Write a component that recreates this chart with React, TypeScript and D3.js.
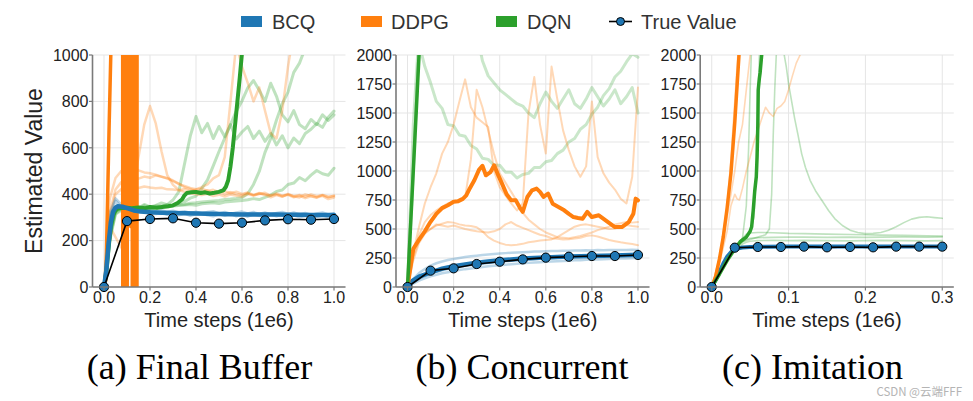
import React from 'react';
import * as d3 from 'd3';

const BLUE = '#1f77b4';
const ORANGE = '#ff7f0e';
const GREEN = '#2ca02c';

// shared time grid (1e6 steps) for the noisy seed runs of (a) and (b)
const tGrid = [0, 0.025, 0.05, 0.075, 0.1, 0.125, 0.15, 0.175, 0.2, 0.225, 0.25, 0.275, 0.3, 0.325, 0.35, 0.375, 0.4, 0.425, 0.45, 0.475, 0.5, 0.525, 0.55, 0.575, 0.6, 0.625, 0.65, 0.675, 0.7, 0.725, 0.75, 0.775, 0.8, 0.825, 0.85, 0.875, 0.9, 0.925, 0.95, 0.975, 1.0];

// ---------- (a) Final Buffer ----------
const trueXA = [0, 0.1, 0.2, 0.3, 0.4, 0.5, 0.6, 0.7, 0.8, 0.9, 1.0];
const trueA = [0, 284, 293, 296, 277, 273, 277, 287, 292, 290, 293];

const bcqXA = [0, 0.01, 0.02, 0.03, 0.04, 0.05, 0.06, 0.08, 0.1, 0.13, 0.16, 0.2, 0.25, 0.3, 0.35, 0.4, 0.45, 0.5, 0.55, 0.6, 0.65, 0.7, 0.75, 0.8, 0.85, 0.9, 0.95, 1.0];
const bcqA = [0, 70, 190, 280, 325, 342, 348, 346, 340, 330, 325, 322, 320, 319, 318, 317, 316, 315, 314, 313, 313, 312, 312, 311, 311, 310, 310, 310];

const dqnXA = [0, 0.01, 0.02, 0.03, 0.04, 0.05, 0.06, 0.08, 0.1, 0.12, 0.15, 0.18, 0.2, 0.23, 0.26, 0.28, 0.3, 0.32, 0.34, 0.35, 0.36, 0.38, 0.4, 0.42, 0.44, 0.46, 0.48, 0.5, 0.52, 0.53, 0.54, 0.55, 0.56, 0.57, 0.58, 0.59, 0.6, 0.61];
const dqnA = [0, 60, 170, 260, 310, 330, 338, 340, 342, 340, 343, 340, 345, 342, 346, 348, 352, 362, 378, 395, 405, 408, 410, 405, 408, 403, 406, 410, 418, 432, 460, 520, 600, 700, 800, 900, 1010, 1100];

// DDPG diverges: flips far above / below the axis range
const ddpgXA = [0, 0.008, 0.015, 0.022, 0.03, 0.035, 0.08, 0.083, 0.086, 0.089, 0.092, 0.095, 0.098, 0.1, 0.102, 0.107, 0.112, 0.117, 0.122, 0.124, 0.127, 0.13, 0.133, 0.136, 0.139, 0.142, 0.145, 1.0];
const ddpgA = [0, 30, 350, 680, 1020, 1400, 5000, -5000, 5000, -5000, 5000, -5000, 5000, -5000, 5000, 280, 5000, 260, 5000, -5000, 5000, -5000, 5000, -5000, 5000, -5000, 5000, 5000];

const dqnSeedsA = [
  [0, 240, 330, 348, 335, 352, 340, 356, 345, 352, 362, 355, 375, 410, 530, 650, 735, 665, 705, 640, 692, 648, 700, 638, 668, 692, 640, 672, 628, 662, 612, 652, 600, 642, 618, 662, 680, 705, 688, 732, 758],
  [0, 225, 325, 342, 333, 346, 337, 351, 341, 350, 347, 356, 349, 362, 368, 383, 392, 425, 462, 522, 584, 642, 700, 758, 802, 858, 890, 848, 800, 878, 822, 742, 712, 760, 700, 682, 722, 700, 742, 718, 742],
  [0, 210, 318, 336, 329, 339, 333, 342, 337, 343, 346, 349, 351, 354, 356, 361, 363, 366, 369, 371, 373, 377, 379, 382, 386, 402, 442, 498, 580, 640, 720, 790, 840, 925, 965, 1030, 1100, 1100, 1100, 1100, 1100],
  [0, 200, 314, 331, 327, 336, 331, 339, 334, 341, 343, 346, 349, 351, 353, 356, 352, 359, 361, 363, 360, 366, 369, 371, 373, 376, 381, 377, 386, 396, 412, 418, 442, 448, 472, 458, 482, 502, 488, 482, 512],
];
const ddpgSeedsA = [
  [0, 260, 215, 170, 300, 420, 560, 700, 780, 705, 585, 482, 440, 418, 410, 404, 400, 396, 402, 392, 398, 390, 399, 393, 389, 401, 394, 403, 397, 387, 396, 389, 401, 391, 386, 399, 392, 387, 397, 389, 392],
  [0, 380, 470, 500, 506, 497, 503, 494, 490, 484, 476, 467, 456, 444, 436, 427, 421, 424, 414, 419, 409, 413, 404, 411, 401, 407, 397, 405, 399, 395, 403, 394, 399, 391, 397, 389, 399, 391, 396, 387, 394],
  [0, 320, 420, 452, 461, 471, 467, 476, 471, 481, 475, 470, 459, 446, 430, 423, 414, 411, 417, 404, 413, 399, 409, 401, 397, 405, 395, 401, 406, 394, 399, 391, 397, 387, 393, 383, 391, 385, 393, 379, 386],
  [0, 300, 400, 421, 426, 430, 427, 433, 429, 426, 428, 421, 420, 417, 423, 414, 421, 430, 442, 468, 482, 560, 800, 1050, 950, 880, 800, 860, 760, 662, 640, 760, 950, 1100, 1100, 1100, 1100, 1100, 1100, 1100, 1100],
];
const bcqSeedsA = [
  [0, 300, 372, 344, 336, 326, 321, 323, 317, 315, 321, 311, 318, 309, 316, 307, 313, 317, 309, 305, 313, 307, 315, 305, 311, 303, 313, 307, 302, 311, 305, 313, 303, 309, 300, 307, 311, 301, 309, 300, 304],
  [0, 320, 382, 356, 343, 337, 336, 329, 333, 327, 331, 324, 329, 321, 327, 319, 325, 317, 323, 327, 317, 323, 315, 321, 325, 317, 323, 315, 321, 313, 319, 323, 315, 321, 313, 319, 311, 317, 321, 313, 318],
];

// ---------- (b) Concurrent ----------
const trueXB = [0, 0.1, 0.2, 0.3, 0.4, 0.5, 0.6, 0.7, 0.8, 0.9, 1.0];
const trueB = [0, 141, 161, 198, 218, 238, 253, 261, 267, 267, 276];

const bcqXB = [0, 0.02, 0.05, 0.1, 0.15, 0.2, 0.3, 0.4, 0.5, 0.6, 0.7, 0.8, 0.9, 1.0];
const bcqB = [0, 50, 90, 125, 158, 180, 210, 230, 245, 255, 262, 268, 272, 278];

const dqnXB = [0, 0.05, 0.06];
const dqnB = [0, 2000, 2400];

const ddpgXB = [0, 0.025, 0.053, 0.075, 0.096, 0.125, 0.15, 0.175, 0.2, 0.22, 0.24, 0.255, 0.27, 0.29, 0.31, 0.325, 0.34, 0.36, 0.376, 0.39, 0.41, 0.43, 0.45, 0.47, 0.49, 0.5, 0.52, 0.54, 0.56, 0.575, 0.59, 0.61, 0.63, 0.655, 0.68, 0.7, 0.72, 0.74, 0.76, 0.78, 0.8, 0.83, 0.87, 0.9, 0.93, 0.96, 0.98, 0.99, 1.0];
const ddpgB = [0, 330, 417, 480, 550, 630, 680, 705, 735, 740, 760, 790, 850, 920, 1010, 1045, 963, 990, 1049, 980, 891, 800, 747, 747, 675, 647, 776, 833, 848, 820, 776, 805, 718, 690, 661, 630, 603, 595, 589, 647, 603, 618, 560, 517, 517, 560, 632, 762, 747];

const bcqSeedsB = [
  [0, 70, 120, 155, 185, 205, 220, 232, 242, 250, 258, 265, 270, 276, 280, 285, 288, 292, 295, 298, 300, 302, 305, 306, 308, 310, 311, 313, 312, 315, 314, 316, 315, 318, 316, 319, 318, 320, 318, 322, 320],
  [0, 40, 70, 95, 115, 130, 145, 155, 165, 172, 180, 188, 195, 200, 206, 212, 218, 222, 226, 230, 234, 238, 240, 244, 246, 250, 252, 255, 256, 260, 258, 262, 264, 266, 265, 268, 270, 272, 270, 274, 276],
  [0, 30, 55, 75, 92, 105, 118, 128, 138, 146, 154, 160, 166, 172, 178, 183, 188, 192, 196, 200, 204, 208, 211, 214, 217, 220, 222, 225, 227, 230, 231, 234, 236, 238, 239, 241, 243, 245, 246, 248, 250],
];
const ddpgSeedsB = [
  [0, 300, 520, 720, 860, 980, 1150, 1250, 1400, 1600, 1790, 1550, 1460, 1420, 1380, 1000, 860, 790, 720, 660, 720, 1500, 1810, 1400, 1150, 1900, 1620, 1350, 1180, 1040, 950, 1040, 1600, 1120, 980, 900, 840, 760, 720, 950, 1720],
  [0, 280, 450, 560, 620, 660, 690, 720, 730, 750, 770, 1100, 1700, 1550, 1350, 1150, 980, 900, 820, 740, 640, 580, 540, 500, 470, 450, 430, 425, 420, 430, 440, 455, 470, 490, 505, 520, 540, 550, 560, 555, 560],
  [0, 230, 380, 460, 500, 540, 530, 520, 530, 515, 500, 490, 480, 475, 470, 480, 500, 540, 560, 530, 510, 490, 470, 450, 440, 420, 415, 410, 412, 418, 425, 440, 445, 435, 420, 405, 395, 385, 378, 370, 360],
  [0, 260, 400, 470, 500, 530, 545, 560, 555, 540, 530, 525, 515, 480, 430, 400, 380, 365, 360, 365, 372, 385, 392, 400, 405, 410, 430, 460, 490, 520, 535, 540, 530, 520, 510, 500, 505, 520, 535, 525, 520],
];
const dqnSeedsB = [
  [0, 1000, 2100, 1900, 1760, 1600, 1540, 1400, 1390, 1310, 1300, 1220, 1190, 1110, 1100, 1050, 1050, 990, 990, 940, 970, 980, 1030, 1030, 1080, 1090, 1150, 1180, 1250, 1280, 1360, 1400, 1490, 1550, 1650, 1710, 1810, 1860, 1940, 2010, 1980],
  [0, 1400, 2200, 2200, 2200, 2200, 2200, 2200, 2200, 2200, 2200, 2200, 2200, 1950, 1820, 1760, 1700, 1660, 1620, 1580, 1560, 1500, 1460, 1580, 1680, 1600, 1540, 1620, 1700, 1580, 1540, 1620, 1720, 1640, 1560, 1620, 1700, 1580, 1640, 1720, 1500],
];

// ---------- (c) Imitation ----------
const trueXC = [0, 0.03, 0.06, 0.09, 0.12, 0.15, 0.18, 0.21, 0.24, 0.27, 0.3];
const trueC = [0, 339, 345, 345, 348, 342, 345, 342, 348, 348, 348];

const bcqXC = [0, 0.005, 0.01, 0.015, 0.02, 0.025, 0.03, 0.035, 0.04, 0.05, 0.07, 0.1, 0.15, 0.2, 0.25, 0.3];
const bcqC = [0, 60, 130, 200, 260, 300, 320, 333, 340, 345, 348, 350, 350, 350, 350, 350];

const ddpgXC = [0, 0.005, 0.01, 0.015, 0.02, 0.025, 0.03, 0.0355, 0.04];
const ddpgC = [0, 90, 240, 430, 680, 980, 1420, 2000, 2500];

const dqnXC = [0, 0.01, 0.02, 0.03, 0.037, 0.045, 0.05, 0.052, 0.054, 0.056, 0.058, 0.059, 0.06, 0.0605, 0.062, 0.063, 0.065, 0.066];
const dqnC = [0, 110, 230, 330, 390, 430, 480, 520, 660, 830, 950, 1120, 1400, 1700, 1800, 1850, 2000, 2100];

const dqnSeedXC1 = [0, 0.02, 0.03, 0.04, 0.045, 0.048, 0.05, 0.052];
const dqnSeedC1 = [0, 250, 330, 420, 700, 1200, 1700, 2100];
const dqnSeedXC2 = [0, 0.02, 0.03, 0.04, 0.06, 0.07, 0.075, 0.078, 0.08, 0.082, 0.084, 0.09, 0.093, 0.097, 0.1, 0.104, 0.108, 0.112, 0.117, 0.122, 0.128, 0.135, 0.143, 0.152, 0.16, 0.17, 0.18, 0.19, 0.2, 0.21, 0.22, 0.23, 0.24, 0.25, 0.26, 0.27, 0.28, 0.29, 0.3];
const dqnSeedC2 = [0, 250, 330, 390, 430, 450, 500, 800, 1300, 1700, 2000, 2150, 2050, 1900, 1750, 1600, 1450, 1320, 1150, 1030, 920, 830, 750, 660, 590, 530, 490, 470, 460, 462, 470, 490, 520, 555, 585, 600, 605, 598, 592];
const dqnSeedXC3 = [0, 0.03, 0.04, 0.05, 0.055, 0.058, 0.06, 0.062, 0.064];
const dqnSeedC3 = [0, 330, 400, 470, 600, 1000, 1500, 2000, 2200];
const flatXC = [0, 0.02, 0.03, 0.04, 0.045, 0.05, 0.06, 0.08, 0.1, 0.12, 0.15, 0.18, 0.2, 0.22, 0.25, 0.28, 0.3];
const dqnFlatC = [
  [0, 230, 330, 420, 455, 465, 470, 468, 462, 460, 456, 452, 450, 447, 445, 442, 440],
  [0, 220, 320, 390, 410, 420, 425, 428, 430, 430, 428, 430, 428, 430, 432, 430, 432],
  [0, 210, 310, 370, 385, 395, 400, 402, 400, 402, 400, 398, 400, 402, 400, 398, 400],
];

const ddpgSeedXC1 = [0, 0.01, 0.02, 0.025, 0.03, 0.033, 0.036, 0.04, 0.045, 0.05, 0.055, 0.06, 0.066, 0.07, 0.075, 0.08, 0.085, 0.09, 0.095, 0.1, 0.105, 0.11, 0.115, 0.12];
const ddpgSeedC1 = [0, 200, 480, 700, 800, 760, 750, 850, 1000, 1120, 1250, 1350, 1470, 1550, 1500, 1470, 1540, 1560, 1600, 1700, 1820, 1930, 2000, 2100];
const ddpgSeedXC2 = [0, 0.01, 0.02, 0.025, 0.03, 0.034, 0.036];
const ddpgSeedC2 = [0, 250, 700, 1100, 1600, 2000, 2200];
const ddpgSeedXC3 = [0, 0.01, 0.02, 0.03, 0.035, 0.04, 0.045, 0.05, 0.052];
const ddpgSeedC3 = [0, 220, 600, 1000, 1250, 1400, 1700, 2000, 2100];

// ---------- axes ----------
const yTicksA = [0, 200, 400, 600, 800, 1000];
const yTicksBC = [0, 250, 500, 750, 1000, 1250, 1500, 1750, 2000];
const xTicksAB = [0, 0.2, 0.4, 0.6, 0.8, 1.0];
const xTicksC = [0, 0.1, 0.2, 0.3];

const legendItems = [
  { label: 'BCQ', color: BLUE, px: 241, tx: 272 },
  { label: 'DDPG', color: ORANGE, px: 361, tx: 391 },
  { label: 'DQN', color: GREEN, px: 496, tx: 527 },
];

type Run = { xs: number[]; ys: number[]; color: string; width: number; opacity: number };
const faint = (xs: number[], ys: number[], color: string, width = 2.5, opacity = 0.3): Run => ({ xs, ys, color, width, opacity });
const bold = (xs: number[], ys: number[], color: string, width = 4): Run => ({ xs, ys, color, width, opacity: 1 });

const SANS = '"Liberation Sans", Arial, Helvetica, sans-serif';
const TOP = 55;
const BOTTOM = 287;

interface PanelProps {
  id: string;
  x0: number;
  x1: number;
  xDomain: [number, number];
  yMax: number;
  xTicks: number[];
  yTicks: number[];
  runs: Run[];
  trueXs: number[];
  trueYs: number[];
  caption: string;
  captionX: number;
  yLabel?: boolean;
}

const Panel = ({ id, x0, x1, xDomain, yMax, xTicks, yTicks, runs, trueXs, trueYs, caption, captionX, yLabel }: PanelProps) => {
  const x = d3.scaleLinear().domain(xDomain).range([x0, x1]);
  const y = d3.scaleLinear().domain([0, yMax]).range([BOTTOM, TOP]);
  const line = d3.line<[number, number]>().x(d => x(d[0])).y(d => y(d[1]));
  const zip = (xs: number[], ys: number[]) => xs.map((v, i) => [v, ys[i]] as [number, number]);
  const fmt = d3.format('.1f');

  return (
    <g>
      <defs>
        <clipPath id={`clip-${id}`}>
          <rect x={x0} y={TOP} width={x1 - x0} height={BOTTOM - TOP} />
        </clipPath>
      </defs>
      {/* grid */}
      {yTicks.map(t => (
        <line key={`gy${t}`} x1={x0} x2={x1} y1={y(t)} y2={y(t)} stroke="#e5e5e5" strokeWidth={1} />
      ))}
      {xTicks.map(t => (
        <line key={`gx${t}`} x1={x(t)} x2={x(t)} y1={TOP} y2={BOTTOM} stroke="#e5e5e5" strokeWidth={1} />
      ))}
      <g clipPath={`url(#clip-${id})`}>
        {runs.map((r, i) => (
          <path key={i} d={line(zip(r.xs, r.ys)) || ''} fill="none" stroke={r.color} strokeOpacity={r.opacity}
            strokeWidth={r.width} strokeLinejoin="round" strokeLinecap="round" />
        ))}
      </g>
      <path d={line(zip(trueXs, trueYs)) || ''} fill="none" stroke="#000" strokeWidth={1.6} />
      {trueXs.map((v, i) => (
        <circle key={i} cx={x(v)} cy={y(trueYs[i])} r={4.6} fill={BLUE} stroke="#000" strokeWidth={1} />
      ))}
      {/* spines */}
      <line x1={x0} x2={x0} y1={TOP} y2={BOTTOM} stroke="#7a7a7a" strokeWidth={1.6} />
      <line x1={x0} x2={x1} y1={BOTTOM} y2={BOTTOM} stroke="#7a7a7a" strokeWidth={1.6} />
      {yTicks.map(t => (
        <g key={`ty${t}`}>
          <line x1={x0 - 3.5} x2={x0} y1={y(t)} y2={y(t)} stroke="#7a7a7a" strokeWidth={1.2} />
          <text x={x0 - 4} y={y(t)} dy="0.36em" textAnchor="end" fontFamily={SANS} fontSize={16} fill="#222">{t}</text>
        </g>
      ))}
      {xTicks.map(t => (
        <g key={`tx${t}`}>
          <line x1={x(t)} x2={x(t)} y1={BOTTOM} y2={BOTTOM + 3.5} stroke="#7a7a7a" strokeWidth={1.2} />
          <text x={x(t)} y={303} textAnchor="middle" fontFamily={SANS} fontSize={16} fill="#222">{fmt(t)}</text>
        </g>
      ))}
      <text x={(x0 + x1) / 2} y={327} textAnchor="middle" fontFamily={SANS} fontSize={20} fill="#222">Time steps (1e6)</text>
      {yLabel && (
        <text transform="translate(42,171) rotate(-90)" textAnchor="middle" fontFamily={SANS} fontSize={23} fill="#222">Estimated Value</text>
      )}
      <text x={captionX} y={379} textAnchor="middle" fontFamily='"Liberation Serif", "Times New Roman", serif' fontSize={36} fill="#000">{caption}</text>
    </g>
  );
};

const App = () => {
  const runsA: Run[] = [
    ...dqnSeedsA.map(s => faint(tGrid, s, GREEN, 3)),
    ...ddpgSeedsA.map(s => faint(tGrid, s, ORANGE, 2.5)),
    ...bcqSeedsA.map(s => faint(tGrid, s, BLUE, 2.5)),
    bold(ddpgXA, ddpgA, ORANGE, 3.5),
    bold(dqnXA, dqnA, GREEN, 4),
    bold(bcqXA, bcqA, BLUE, 4.5),
  ];
  const runsB: Run[] = [
    ...dqnSeedsB.map(s => faint(tGrid, s, GREEN, 3, 0.25)),
    ...ddpgSeedsB.map(s => faint(tGrid, s, ORANGE, 2)),
    ...bcqSeedsB.map(s => faint(tGrid, s, BLUE, 2.5)),
    bold(bcqXB, bcqB, BLUE, 4.5),
    bold(ddpgXB, ddpgB, ORANGE, 4),
    bold(dqnXB, dqnB, GREEN, 3.5),
  ];
  const runsC: Run[] = [
    faint(dqnSeedXC1, dqnSeedC1, GREEN, 1.6),
    faint(dqnSeedXC2, dqnSeedC2, GREEN, 1.6),
    faint(dqnSeedXC3, dqnSeedC3, GREEN, 1.6),
    ...dqnFlatC.map(s => faint(flatXC, s, GREEN, 1.6)),
    faint(ddpgSeedXC1, ddpgSeedC1, ORANGE, 1.6),
    faint(ddpgSeedXC2, ddpgSeedC2, ORANGE, 1.6),
    faint(ddpgSeedXC3, ddpgSeedC3, ORANGE, 1.6),
    bold(bcqXC, bcqC, BLUE, 4),
    bold(ddpgXC, ddpgC, ORANGE, 3.5),
    bold(dqnXC, dqnC, GREEN, 3.5),
  ];

  return (
    <svg width={973} height={401} style={{ position: 'absolute', left: 0, top: 0, background: '#fff' }}>
      <rect width={973} height={401} fill="#fff" />
      {/* legend */}
      {legendItems.map(d => (
        <g key={d.label}>
          <rect x={d.px} y={16} width={21} height={11} fill={d.color} />
          <text x={d.tx} y={28.5} fontFamily={SANS} fontSize={20} fill="#333">{d.label}</text>
        </g>
      ))}
      <line x1={609} x2={632} y1={21.5} y2={21.5} stroke="#000" strokeWidth={1.6} />
      <circle cx={620.5} cy={21.5} r={4} fill={BLUE} stroke="#000" strokeWidth={1} />
      <text x={641} y={28.5} fontFamily={SANS} fontSize={20} fill="#333">True Value</text>

      <Panel id="a" x0={92.5} x1={345.5} xDomain={[-0.05, 1.05]} yMax={1000} xTicks={xTicksAB} yTicks={yTicksA}
        runs={runsA} trueXs={trueXA} trueYs={trueA} caption="(a) Final Buffer" captionX={199.5} yLabel />
      <Panel id="b" x0={396} x1={649.5} xDomain={[-0.05, 1.05]} yMax={2000} xTicks={xTicksAB} yTicks={yTicksBC}
        runs={runsB} trueXs={trueXB} trueYs={trueB} caption="(b) Concurrent" captionX={522} />
      <Panel id="c" x0={700.2} x1={953.8} xDomain={[-0.015, 0.315]} yMax={2000} xTicks={xTicksC} yTicks={yTicksBC}
        runs={runsC} trueXs={trueXC} trueYs={trueC} caption="(c) Imitation" captionX={812.5} />

      <text x={962} y={396} textAnchor="end" fontFamily='"Noto Sans CJK SC", "Noto Sans", sans-serif' fontSize={11.5} fill="#b4b4b4">CSDN @云端FFF</text>
    </svg>
  );
};

export default App;
